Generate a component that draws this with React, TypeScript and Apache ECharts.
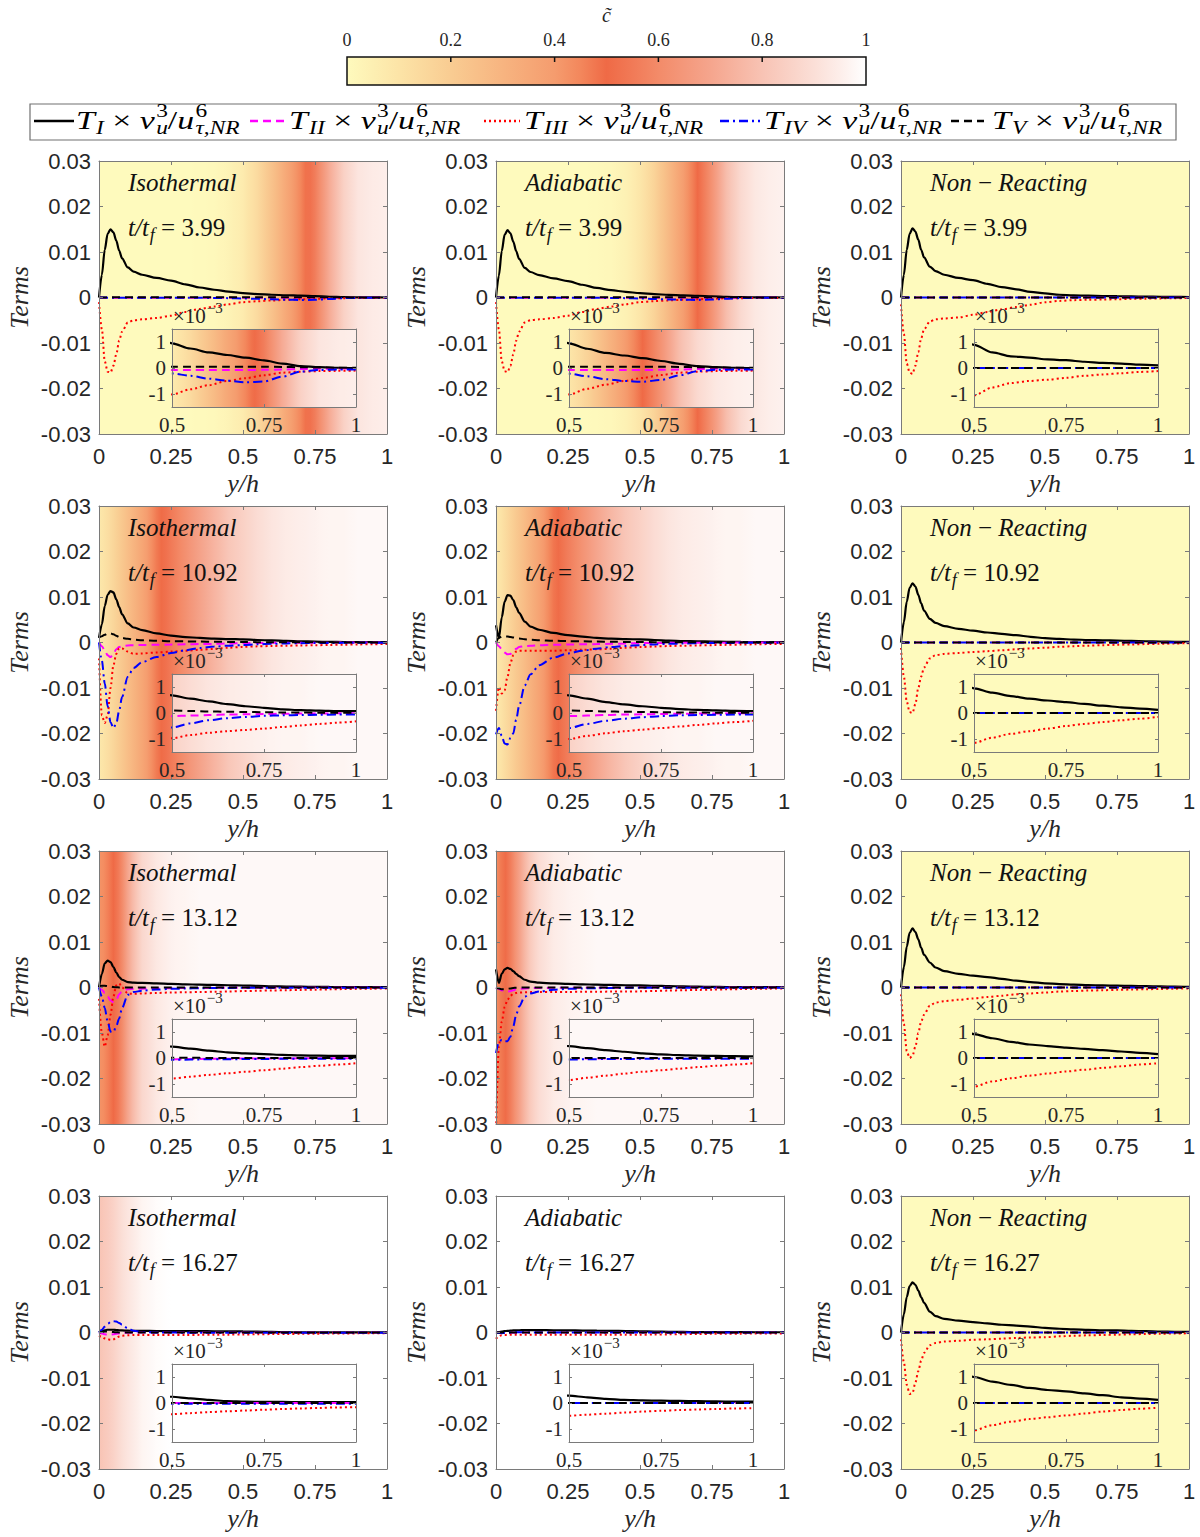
import React, { useEffect, useRef } from 'react';
import * as echarts from 'echarts';

// Wall-normal positions y/h at which every budget term is sampled
const Y_POS = [0, 0.01, 0.02, 0.03, 0.04, 0.05, 0.06, 0.07, 0.08, 0.1, 0.12, 0.15, 0.2, 0.25, 0.3, 0.35, 0.4, 0.45, 0.5, 0.55, 0.6, 0.65, 0.7, 0.75, 0.8, 0.85, 0.9, 0.95, 1];

// Budget terms in units of 1e-3 (T_I .. T_V), one set per case and time
const ZERO = [0, 0, 0, 0, 0, 0, 0, 0, 0, 0, 0, 0, 0, 0, 0, 0, 0, 0, 0, 0, 0, 0, 0, 0, 0, 0, 0, 0, 0];

const iso399_T1 = [0, 5, 10.5, 14, 15, 14.3, 12.5, 10.3, 8.6, 6.6, 5.7, 5.0, 4.3, 3.7, 2.9, 2.2, 1.7, 1.3, 0.95, 0.75, 0.6, 0.5, 0.4, 0.29, 0.17, 0.07, 0.03, 0.01, 0];
const iso399_T2 = [0, -0.02, -0.04, -0.05, -0.05, -0.05, -0.05, -0.05, -0.05, -0.05, -0.05, -0.05, -0.06, -0.06, -0.07, -0.07, -0.08, -0.08, -0.08, -0.08, -0.08, -0.08, -0.08, -0.07, -0.06, -0.04, -0.03, -0.02, -0.02];
const iso399_T3 = [-1, -7, -14, -16.3, -16.5, -15, -12.5, -9.5, -7.5, -5.5, -5.0, -4.8, -4.5, -4.0, -3.2, -2.5, -2.0, -1.5, -1.02, -0.82, -0.66, -0.5, -0.39, -0.28, -0.18, -0.14, -0.12, -0.11, -0.1];
const iso399_T4 = [0, 0, -0.02, -0.03, -0.03, -0.03, -0.03, -0.03, -0.03, -0.03, -0.03, -0.03, -0.04, -0.05, -0.06, -0.07, -0.09, -0.14, -0.21, -0.3, -0.41, -0.49, -0.55, -0.52, -0.33, -0.14, -0.08, -0.06, -0.06];
const iso399_T5 = [0, 0.01, 0.02, 0.03, 0.03, 0.03, 0.03, 0.03, 0.03, 0.03, 0.03, 0.03, 0.04, 0.04, 0.04, 0.05, 0.05, 0.05, 0.05, 0.05, 0.05, 0.05, 0.05, 0.05, 0.04, 0.03, 0.02, 0.01, 0.01];

const adi399_T1 = [0, 4.8, 10.2, 13.8, 14.8, 14.1, 12.3, 10.2, 8.5, 6.5, 5.6, 4.9, 4.2, 3.6, 2.8, 2.1, 1.6, 1.25, 0.95, 0.74, 0.58, 0.48, 0.38, 0.27, 0.16, 0.07, 0.03, 0.01, 0];
const adi399_T2 = [0, -0.02, -0.04, -0.05, -0.05, -0.05, -0.05, -0.05, -0.05, -0.05, -0.05, -0.05, -0.06, -0.06, -0.07, -0.07, -0.08, -0.08, -0.08, -0.08, -0.08, -0.08, -0.08, -0.07, -0.06, -0.04, -0.03, -0.02, -0.02];
const adi399_T3 = [-1, -7, -14, -16.2, -16.4, -15, -12.5, -9.5, -7.5, -5.5, -5.0, -4.8, -4.5, -4.0, -3.2, -2.5, -2.0, -1.5, -1.02, -0.8, -0.64, -0.5, -0.38, -0.27, -0.18, -0.14, -0.12, -0.11, -0.1];
const adi399_T4 = [0, 0, -0.02, -0.03, -0.03, -0.03, -0.03, -0.03, -0.03, -0.03, -0.03, -0.03, -0.04, -0.05, -0.06, -0.07, -0.09, -0.14, -0.22, -0.32, -0.43, -0.5, -0.53, -0.46, -0.28, -0.12, -0.07, -0.06, -0.06];
const adi399_T5 = [0, 0.01, 0.02, 0.03, 0.03, 0.03, 0.03, 0.03, 0.03, 0.03, 0.03, 0.03, 0.04, 0.04, 0.04, 0.05, 0.05, 0.05, 0.05, 0.05, 0.05, 0.05, 0.05, 0.05, 0.04, 0.03, 0.02, 0.01, 0.01];

const nr399_T1 = [0, 5, 10.5, 14, 15.2, 14.5, 12.7, 10.5, 8.8, 6.8, 5.8, 5.0, 4.3, 3.8, 3.0, 2.3, 1.8, 1.25, 0.89, 0.6, 0.45, 0.4, 0.33, 0.3, 0.24, 0.2, 0.17, 0.13, 0.1];
const nr399_T3 = [-1.5, -8, -14.5, -16.5, -16.8, -15, -12, -9, -7, -5.3, -4.8, -4.6, -4.4, -3.8, -3.2, -2.6, -2.1, -1.6, -1.05, -0.75, -0.58, -0.5, -0.45, -0.38, -0.3, -0.25, -0.2, -0.15, -0.12];

const iso1092_T1 = [1.0, 4, 8, 10.5, 11.3, 11, 9.5, 7.8, 6.2, 4.2, 3.3, 2.7, 2.0, 1.5, 1.2, 1.0, 0.85, 0.76, 0.68, 0.55, 0.45, 0.34, 0.26, 0.2, 0.14, 0.11, 0.09, 0.07, 0.07];
const iso1092_T2 = [0, -0.8, -1.8, -2.8, -3.2, -2.5, -1.5, -1.0, -0.8, -0.65, -0.6, -0.55, -0.5, -0.45, -0.4, -0.35, -0.3, -0.22, -0.12, -0.1, -0.08, -0.06, -0.05, -0.04, -0.03, -0.02, -0.02, -0.01, -0.01];
const iso1092_T3 = [-3.5, -16, -17.7, -16, -10, -5, -2.5, -1.3, -1.3, -2.0, -2.5, -2.4, -2.2, -2.0, -1.8, -1.6, -1.4, -1.15, -0.97, -0.85, -0.76, -0.7, -0.65, -0.6, -0.54, -0.48, -0.42, -0.37, -0.32];
const iso1092_T4 = [0, -4, -9, -14, -17.5, -18.8, -17.8, -15, -12, -7.5, -5.6, -4.3, -3.2, -2.3, -1.7, -1.2, -0.9, -0.7, -0.56, -0.4, -0.28, -0.2, -0.15, -0.11, -0.09, -0.08, -0.07, -0.06, -0.06];
const iso1092_T5 = [1.1, 1.4, 1.7, 2.0, 2.0, 1.8, 1.5, 1.2, 1.0, 0.8, 0.65, 0.5, 0.4, 0.3, 0.25, 0.2, 0.16, 0.13, 0.1, 0.08, 0.06, 0.05, 0.04, 0.03, 0.02, 0.02, 0.01, 0.01, 0.01];

const adi1092_T1 = [3.8, 1.0, 5.5, 9, 10.4, 10.3, 9.3, 7.8, 6.5, 4.6, 3.5, 2.8, 2.1, 1.6, 1.3, 1.0, 0.85, 0.75, 0.68, 0.55, 0.42, 0.33, 0.26, 0.2, 0.15, 0.12, 0.1, 0.08, 0.07];
const adi1092_T2 = [0, -0.8, -1.5, -2.2, -2.6, -2.5, -2.0, -1.4, -1.0, -0.8, -0.7, -0.6, -0.5, -0.45, -0.4, -0.35, -0.3, -0.22, -0.12, -0.1, -0.08, -0.06, -0.05, -0.04, -0.03, -0.02, -0.02, -0.01, -0.01];
const adi1092_T3 = [-15, -9.8, -11.2, -10.5, -7.5, -4.5, -2.8, -2.0, -1.8, -1.8, -1.8, -1.8, -1.8, -1.7, -1.6, -1.5, -1.35, -1.15, -1.0, -0.88, -0.78, -0.7, -0.64, -0.58, -0.52, -0.46, -0.4, -0.35, -0.3];
const adi1092_T4 = [-20.2, -18.8, -20.5, -22.2, -22.4, -21, -20, -17, -14, -9.4, -7, -5, -3.3, -2.4, -1.8, -1.35, -1.0, -0.75, -0.58, -0.42, -0.3, -0.22, -0.16, -0.12, -0.09, -0.08, -0.07, -0.06, -0.06];
const adi1092_T5 = [0, 1.0, 1.3, 1.3, 1.3, 1.2, 1.1, 1.0, 0.9, 0.7, 0.6, 0.5, 0.4, 0.3, 0.25, 0.2, 0.16, 0.13, 0.1, 0.08, 0.06, 0.05, 0.04, 0.03, 0.02, 0.02, 0.01, 0.01, 0.01];

const nr1092_T1 = [0, 4.5, 9, 12, 13, 12.3, 10.5, 8.6, 7, 5.2, 4.3, 3.6, 3.0, 2.6, 2.2, 1.9, 1.6, 1.25, 0.95, 0.78, 0.65, 0.55, 0.48, 0.42, 0.35, 0.28, 0.22, 0.17, 0.12];
const nr1092_T3 = [-1.2, -7.5, -13, -15.3, -15.5, -13.5, -10, -7.5, -5.5, -3.5, -2.8, -2.5, -2.3, -2.1, -1.9, -1.7, -1.5, -1.3, -1.15, -0.95, -0.8, -0.7, -0.6, -0.5, -0.42, -0.35, -0.28, -0.22, -0.15];

const iso1312_T1 = [0, 3, 5.3, 5.9, 5.6, 4.5, 3.3, 2.3, 1.7, 1.2, 1.05, 1.0, 0.9, 0.8, 0.7, 0.62, 0.56, 0.5, 0.44, 0.36, 0.28, 0.22, 0.18, 0.15, 0.12, 0.1, 0.09, 0.08, 0.08];
const iso1312_T2 = [0, -0.5, -1.2, -2.0, -2.8, -3.2, -2.7, -1.5, -0.8, -0.4, -0.3, -0.25, -0.2, -0.15, -0.12, -0.1, -0.08, -0.06, -0.05, -0.04, -0.03, -0.03, -0.02, -0.02, -0.02, -0.01, -0.01, -0.01, -0.01];
const iso1312_T3 = [-2.5, -10, -13, -10.5, -6, -2, 0.5, 0.9, 0, -1.3, -1.4, -1.3, -1.2, -1.1, -1.05, -1.0, -0.95, -0.88, -0.79, -0.72, -0.65, -0.59, -0.53, -0.47, -0.41, -0.35, -0.3, -0.25, -0.2];
const iso1312_T4 = [0, -2, -4.5, -7.5, -9.7, -9.8, -8.5, -6.8, -4.5, -1.6, -1.0, -0.7, -0.45, -0.3, -0.22, -0.16, -0.12, -0.09, -0.07, -0.06, -0.05, -0.05, -0.04, -0.04, -0.03, -0.03, -0.03, -0.03, -0.03];
const iso1312_T5 = [0.3, 0.4, 0.4, 0.3, 0.2, 0.1, 0.05, 0.02, 0.01, 0.01, 0.01, 0.01, 0.01, 0.01, 0.01, 0.01, 0.01, 0.01, 0.01, 0.01, 0, 0, 0, 0, 0, 0, 0, 0, 0];

const adi1312_T1 = [4.0, 1.0, 3.0, 4.0, 4.3, 4.1, 3.6, 3.0, 2.5, 1.7, 1.3, 1.05, 0.9, 0.8, 0.7, 0.62, 0.56, 0.5, 0.46, 0.38, 0.3, 0.24, 0.18, 0.14, 0.11, 0.09, 0.08, 0.07, 0.06];
const adi1312_T2 = [0, -0.3, -0.6, -0.8, -0.9, -0.8, -0.6, -0.4, -0.3, -0.2, -0.15, -0.1, -0.08, -0.06, -0.05, -0.04, -0.03, -0.03, -0.02, -0.02, -0.02, -0.02, -0.01, -0.01, -0.01, -0.01, -0.01, -0.01, -0.01];
const adi1312_T3 = [-32, -13, -7.5, -4.3, -2.7, -1.8, -1.4, -1.2, -1.1, -1.05, -1.0, -1.0, -1.0, -0.97, -0.95, -0.92, -0.9, -0.88, -0.85, -0.76, -0.68, -0.6, -0.53, -0.47, -0.41, -0.35, -0.3, -0.25, -0.2];
const adi1312_T4 = [-14.4, -12, -11.5, -11.8, -11.8, -10.8, -8.5, -6, -4.2, -2.0, -1.3, -0.9, -0.5, -0.3, -0.2, -0.15, -0.1, -0.08, -0.06, -0.05, -0.04, -0.04, -0.03, -0.03, -0.03, -0.03, -0.03, -0.03, -0.03];
const adi1312_T5 = [0, -0.2, -0.4, -0.4, -0.3, -0.2, -0.1, -0.05, -0.02, 0, 0, 0, 0, 0, 0, 0, 0, 0, 0, 0, 0, 0, 0, 0, 0, 0, 0, 0, 0];

const nr1312_T1 = [0, 4.5, 9, 12, 13, 12.2, 10.6, 8.7, 7.2, 5.5, 4.4, 3.6, 3.0, 2.6, 2.3, 1.9, 1.5, 1.2, 0.92, 0.76, 0.62, 0.52, 0.46, 0.4, 0.35, 0.3, 0.25, 0.2, 0.15];
const nr1312_T3 = [-1.5, -8, -14, -15.5, -15, -13, -10, -7.5, -6, -4, -3.3, -3.0, -2.7, -2.4, -2.1, -1.8, -1.5, -1.3, -1.1, -0.9, -0.78, -0.68, -0.6, -0.52, -0.45, -0.38, -0.32, -0.25, -0.2];

const iso1627_T1 = [0, 0.3, 0.5, 0.6, 0.6, 0.6, 0.55, 0.5, 0.45, 0.4, 0.38, 0.35, 0.33, 0.31, 0.3, 0.29, 0.28, 0.26, 0.24, 0.18, 0.12, 0.07, 0.05, 0.04, 0.04, 0.03, 0.03, 0.03, 0.03];
const iso1627_T2 = [0, -0.2, -0.4, -0.5, -0.5, -0.4, -0.3, -0.2, -0.1, -0.05, -0.02, 0, 0, 0, 0, 0, 0, 0, 0, 0, 0, 0, 0, 0, 0, 0, 0, 0, 0];
const iso1627_T3 = [-0.7, -1.0, -1.3, -1.5, -1.6, -1.5, -1.2, -0.9, -0.7, -0.6, -0.55, -0.55, -0.55, -0.55, -0.55, -0.52, -0.5, -0.47, -0.43, -0.39, -0.35, -0.32, -0.29, -0.26, -0.23, -0.21, -0.19, -0.17, -0.16];
const iso1627_T4 = [0, 0.6, 1.3, 1.9, 2.3, 2.5, 2.4, 2.1, 1.7, 0.9, 0.4, 0.1, 0, -0.02, -0.03, -0.03, -0.03, -0.03, -0.03, -0.03, -0.03, -0.03, -0.03, -0.03, -0.03, -0.03, -0.03, -0.03, -0.03];
const iso1627_T5 = [0, 0.1, 0.2, 0.2, 0.15, 0.1, 0.05, 0.02, 0, 0, 0, 0, 0, 0, 0, 0, 0, 0, 0, 0, 0, 0, 0, 0, 0, 0, 0, 0, 0];

const adi1627_T1 = [0, 0.1, 0.2, 0.3, 0.35, 0.4, 0.45, 0.48, 0.5, 0.52, 0.53, 0.53, 0.5, 0.47, 0.43, 0.4, 0.36, 0.32, 0.28, 0.22, 0.16, 0.12, 0.1, 0.09, 0.08, 0.07, 0.06, 0.05, 0.05];
const adi1627_T2 = [0, -0.05, -0.1, -0.1, -0.1, -0.08, -0.06, -0.04, -0.03, -0.02, -0.01, 0, 0, 0, 0, 0, 0, 0, 0, 0, 0, 0, 0, 0, 0, 0, 0, 0, 0];
const adi1627_T3 = [-1.4, -0.8, -0.6, -0.55, -0.5, -0.5, -0.5, -0.5, -0.5, -0.5, -0.5, -0.5, -0.5, -0.5, -0.5, -0.5, -0.5, -0.5, -0.49, -0.45, -0.41, -0.37, -0.33, -0.3, -0.27, -0.25, -0.23, -0.21, -0.2];
const adi1627_T4 = [0, -0.1, -0.15, -0.1, -0.05, 0, 0.05, 0.05, 0.05, 0.03, 0.02, 0.01, 0, 0, 0, 0, 0, 0, 0, 0, 0, 0, 0, 0, 0, 0, 0, 0, 0];

const nr1627_T1 = [0, 4, 7.8, 10.2, 11, 10.5, 9.2, 7.8, 6.5, 4.6, 3.6, 3.0, 2.6, 2.3, 2.0, 1.7, 1.5, 1.3, 1.0, 0.82, 0.7, 0.58, 0.5, 0.45, 0.37, 0.3, 0.22, 0.17, 0.12];
const nr1627_T3 = [-1.5, -6.5, -11.5, -13.5, -13.3, -11, -8.5, -6.2, -4.5, -2.8, -2.3, -2.0, -1.8, -1.6, -1.5, -1.35, -1.2, -1.1, -1.05, -0.85, -0.72, -0.62, -0.55, -0.48, -0.4, -0.33, -0.27, -0.22, -0.18];

// Mean progress variable c~ across the channel, one profile per case and time
const C_POS = [0, 0.02, 0.04, 0.06, 0.08, 0.1, 0.12, 0.15, 0.2, 0.25, 0.3, 0.35, 0.4, 0.45, 0.5, 0.55, 0.6, 0.65, 0.7, 0.75, 0.8, 0.85, 0.9, 0.95, 1];
const cIso399 = [0, 0, 0, 0, 0, 0, 0, 0, 0, 0, 0, 0.005, 0.01, 0.03, 0.07, 0.14, 0.24, 0.35, 0.45, 0.56, 0.72, 0.85, 0.92, 0.94, 0.95];
const cAdi399 = [0, 0, 0, 0, 0, 0, 0, 0, 0, 0, 0, 0.005, 0.015, 0.04, 0.09, 0.17, 0.28, 0.39, 0.5, 0.63, 0.78, 0.88, 0.93, 0.95, 0.96];
const cIso1092 = [0.08, 0.11, 0.14, 0.18, 0.22, 0.26, 0.3, 0.36, 0.47, 0.55, 0.62, 0.69, 0.75, 0.81, 0.85, 0.89, 0.92, 0.94, 0.95, 0.96, 0.97, 0.97, 0.98, 0.98, 0.98];
const cAdi1092 = [0.08, 0.11, 0.15, 0.19, 0.23, 0.27, 0.31, 0.37, 0.48, 0.56, 0.63, 0.7, 0.76, 0.81, 0.85, 0.89, 0.92, 0.94, 0.95, 0.96, 0.97, 0.97, 0.98, 0.98, 0.98];
const cIso1312 = [0.42, 0.44, 0.48, 0.52, 0.6, 0.7, 0.78, 0.87, 0.93, 0.96, 0.97, 0.98, 0.98, 0.98, 0.98, 0.98, 0.98, 0.98, 0.98, 0.98, 0.98, 0.98, 0.98, 0.98, 0.98];
const cAdi1312 = [0.43, 0.48, 0.52, 0.6, 0.68, 0.76, 0.83, 0.89, 0.94, 0.96, 0.97, 0.98, 0.98, 0.98, 0.98, 0.98, 0.98, 0.98, 0.98, 0.98, 0.98, 0.98, 0.98, 0.98, 0.98];
const cIso1627 = [0.8, 0.82, 0.84, 0.87, 0.9, 0.92, 0.94, 0.97, 0.99, 1, 1, 1, 1, 1, 1, 1, 1, 1, 1, 1, 1, 1, 1, 1, 1];
const cAdi1627 = [1, 1, 1, 1, 1, 1, 1, 1, 1, 1, 1, 1, 1, 1, 1, 1, 1, 1, 1, 1, 1, 1, 1, 1, 1];
const cNonReacting = [0, 0, 0, 0, 0, 0, 0, 0, 0, 0, 0, 0, 0, 0, 0, 0, 0, 0, 0, 0, 0, 0, 0, 0, 0];

// Colour map for c~ (pale yellow -> orange-red -> white)
const CMAP_LEVELS = [0, 0.1, 0.2, 0.3, 0.4, 0.45, 0.5, 0.55, 0.6, 0.7, 0.8, 0.9, 0.95, 1];
const CMAP_COLORS = ['#FEFABD', '#FCE4A7', '#F9CC92', '#F7B480', '#F59C6E', '#F3875C', '#EF6A46', '#F17A57', '#F38B69', '#F5A58D', '#F8C3B4', '#FBDFD7', '#FDEEEA', '#FFFFFF'];
const CBAR_TICKS = [0, 0.2, 0.4, 0.6, 0.8, 1];
const CBAR_LABELS = ['0', '0.2', '0.4', '0.6', '0.8', '1'];

const CASE_ISO = 'iso';
const CASE_ADI = 'adi';
const CASE_NR = 'nr';

const PANELS = [
  { kind: CASE_ISO, time: '3.99', terms: [iso399_T1, iso399_T2, iso399_T3, iso399_T4, iso399_T5], c: cIso399 },
  { kind: CASE_ADI, time: '3.99', terms: [adi399_T1, adi399_T2, adi399_T3, adi399_T4, adi399_T5], c: cAdi399 },
  { kind: CASE_NR, time: '3.99', terms: [nr399_T1, ZERO, nr399_T3, ZERO, ZERO], c: cNonReacting },
  { kind: CASE_ISO, time: '10.92', terms: [iso1092_T1, iso1092_T2, iso1092_T3, iso1092_T4, iso1092_T5], c: cIso1092 },
  { kind: CASE_ADI, time: '10.92', terms: [adi1092_T1, adi1092_T2, adi1092_T3, adi1092_T4, adi1092_T5], c: cAdi1092 },
  { kind: CASE_NR, time: '10.92', terms: [nr1092_T1, ZERO, nr1092_T3, ZERO, ZERO], c: cNonReacting },
  { kind: CASE_ISO, time: '13.12', terms: [iso1312_T1, iso1312_T2, iso1312_T3, iso1312_T4, iso1312_T5], c: cIso1312 },
  { kind: CASE_ADI, time: '13.12', terms: [adi1312_T1, adi1312_T2, adi1312_T3, adi1312_T4, adi1312_T5], c: cAdi1312 },
  { kind: CASE_NR, time: '13.12', terms: [nr1312_T1, ZERO, nr1312_T3, ZERO, ZERO], c: cNonReacting },
  { kind: CASE_ISO, time: '16.27', terms: [iso1627_T1, iso1627_T2, iso1627_T3, iso1627_T4, iso1627_T5], c: cIso1627 },
  { kind: CASE_ADI, time: '16.27', terms: [adi1627_T1, adi1627_T2, adi1627_T3, adi1627_T4, ZERO], c: cAdi1627 },
  { kind: CASE_NR, time: '16.27', terms: [nr1627_T1, ZERO, nr1627_T3, ZERO, ZERO], c: cNonReacting },
];

const TERM_SUBS = ['I', 'II', 'III', 'IV', 'V'];

// ---- styling ----
const SERIF = 'Liberation Serif, serif';
const SANS = 'Liberation Sans, Arial, sans-serif';
const INK = '#262626';
const BOX = '#7a7a7a';

const TERM_STYLES: { color: string; dash: any }[] = [
  { color: '#000000', dash: 'solid' },
  { color: '#FF00FF', dash: [8, 5] },
  { color: '#FF0000', dash: [2, 3] },
  { color: '#0000FF', dash: [9, 4, 2, 4] },
  { color: '#000000', dash: [8, 5] },
];

const COL_LEFT = [99, 496, 901];
const ROW_TOP = [161, 506, 851, 1196];
const PLOT_W = 288;
const PLOT_H = 273;
const INSET_DX = 73;
const INSET_DY = 168;
const INSET_W = 184;
const INSET_H = 78;

// ---- helpers ----
function hexToRgb(h: string) {
  const n = parseInt(h.slice(1), 16);
  return [(n >> 16) & 255, (n >> 8) & 255, n & 255];
}
function cmap(c: number) {
  const v = Math.max(0, Math.min(1, c));
  let k = 0;
  while (k < CMAP_LEVELS.length - 2 && v > CMAP_LEVELS[k + 1]) k++;
  const t = (v - CMAP_LEVELS[k]) / (CMAP_LEVELS[k + 1] - CMAP_LEVELS[k]);
  const a = hexToRgb(CMAP_COLORS[k]);
  const b = hexToRgb(CMAP_COLORS[k + 1]);
  return `rgb(${a.map((x, i) => Math.round(x + (b[i] - x) * t)).join(',')})`;
}
function cAt(profile: number[], x: number) {
  if (x <= C_POS[0]) return profile[0];
  for (let k = 0; k < C_POS.length - 1; k++) {
    if (x <= C_POS[k + 1]) {
      const t = (x - C_POS[k]) / (C_POS[k + 1] - C_POS[k]);
      return profile[k] + (profile[k + 1] - profile[k]) * t;
    }
  }
  return profile[profile.length - 1];
}
function bgGradient(profile: number[], x0: number, x1: number) {
  const stops: { offset: number; color: string }[] = [];
  const n = 60;
  for (let k = 0; k <= n; k++) {
    const x = x0 + ((x1 - x0) * k) / n;
    stops.push({ offset: k / n, color: cmap(cAt(profile, x)) });
  }
  return new echarts.graphic.LinearGradient(0, 0, 1, 0, stops);
}

let measureCtx: CanvasRenderingContext2D | null = null;
function measure(text: string, size: number, italic: boolean) {
  if (!measureCtx) measureCtx = document.createElement('canvas').getContext('2d');
  if (!measureCtx) return text.length * size * 0.5;
  measureCtx.font = `${italic ? 'italic ' : ''}${size}px ${SERIF}`;
  return measureCtx.measureText(text).width;
}

type Tok = { t?: string; i?: boolean; sup?: string; sub?: string };

function txt(text: string, x: number, y: number, size: number, italic: boolean, fill: string) {
  return {
    type: 'text',
    x,
    y,
    z: 50,
    silent: true,
    style: {
      text,
      fontSize: size,
      fontFamily: SERIF,
      fontStyle: italic ? 'italic' : 'normal',
      fill,
      align: 'left',
      verticalAlign: 'middle',
      textAlign: 'left',
      textVerticalAlign: 'middle',
    },
  };
}

function mathRun(toks: Tok[], size: number, fill: string) {
  const small = Math.round(size * 0.7);
  let x = 0;
  const children: any[] = [];
  for (const k of toks) {
    if (k.t) {
      children.push(txt(k.t, x, 0, size, !!k.i, fill));
      x += measure(k.t, size, !!k.i);
    }
    let w = 0;
    if (k.sup) {
      children.push(txt(k.sup, x + 1, -size * 0.36, small, false, fill));
      w = Math.max(w, measure(k.sup, small, false) + 1);
    }
    if (k.sub) {
      children.push(txt(k.sub, x + 1, size * 0.32, small, true, fill));
      w = Math.max(w, measure(k.sub, small, true) + 1);
    }
    x += w;
  }
  return { children, width: x };
}

function mathGroup(toks: Tok[], x: number, y: number, size: number, fill: string, targetWidth?: number) {
  const run = mathRun(toks, size, fill);
  let scaleX = 1;
  if (targetWidth) scaleX = Math.max(0.85, Math.min(1.3, targetWidth / run.width));
  return { type: 'group', x, y, scaleX, z: 50, silent: true, children: run.children };
}

function caseTokens(kind: string): Tok[] {
  if (kind === CASE_ISO) return [{ t: 'Isothermal', i: true }];
  if (kind === CASE_ADI) return [{ t: 'Adiabatic', i: true }];
  return [{ t: 'Non', i: true }, { t: ' \u2212 ' }, { t: 'Reacting', i: true }];
}

function buildOption() {
  const grids: any[] = [];
  const xAxes: any[] = [];
  const yAxes: any[] = [];
  const series: any[] = [];
  const graphics: any[] = [];

  const addAxes = (gi: number, main: boolean) => {
    const axisLine = { show: true, onZero: false, lineStyle: { color: BOX, width: 1 } };
    const tick = { show: true, inside: true, length: main ? 4 : 3, lineStyle: { color: BOX, width: 1 } };
    const xBase = { type: 'value', gridIndex: gi, min: main ? 0 : 0.5, max: 1, interval: 0.25, z: 8, axisLine, splitLine: { show: false } };
    xAxes.push({
      ...xBase,
      position: 'bottom',
      axisTick: tick,
      axisLabel: {
        show: true,
        margin: main ? 11 : 7,
        fontSize: main ? 22 : 21,
        fontFamily: main ? SANS : SERIF,
        color: INK,
        showMinLabel: true,
        showMaxLabel: true,
      },
    });
    xAxes.push({ ...xBase, position: 'top', axisTick: tick, axisLabel: { show: false } });

    if (main) {
      const yBase = { type: 'value', gridIndex: gi, min: -0.03, max: 0.03, interval: 0.01, z: 8, axisLine, splitLine: { show: false } };
      yAxes.push({
        ...yBase,
        position: 'left',
        axisTick: tick,
        axisLabel: { show: true, margin: 8, fontSize: 22, fontFamily: SANS, color: INK, showMinLabel: true, showMaxLabel: true },
      });
      yAxes.push({ ...yBase, position: 'right', axisTick: tick, axisLabel: { show: false } });
    } else {
      const yBase = { type: 'value', gridIndex: gi, min: -1.5, max: 1.5, z: 8, axisLine, splitLine: { show: false } };
      yAxes.push({
        ...yBase,
        position: 'left',
        axisTick: { ...tick, customValues: [-1, 0, 1] },
        axisLabel: { show: true, margin: 6, fontSize: 21, fontFamily: SERIF, color: INK, customValues: [-1, 0, 1] },
      });
      yAxes.push({ ...yBase, position: 'right', axisTick: { ...tick, customValues: [-1, 0, 1] }, axisLabel: { show: false } });
    }
  };

  const addBackground = (gi: number, profile: number[], main: boolean) => {
    const x0 = main ? 0 : 0.5;
    const yMin = main ? -0.03 : -1.5;
    const yMax = main ? 0.03 : 1.5;
    const fill = bgGradient(profile, x0, 1);
    series.push({
      type: 'custom',
      xAxisIndex: gi * 2,
      yAxisIndex: gi * 2,
      z: main ? 1 : 5,
      silent: true,
      clip: false,
      data: [[x0, yMin]],
      renderItem: (_p: any, api: any) => {
        const a = api.coord([x0, yMax]);
        const b = api.coord([1, yMin]);
        return {
          type: 'rect',
          shape: { x: a[0], y: a[1], width: b[0] - a[0], height: b[1] - a[1] },
          style: { fill, stroke: null },
        };
      },
    });
  };

  const addTerms = (gi: number, terms: number[][], main: boolean) => {
    const scale = main ? 1e-3 : 1;
    terms.forEach((arr, k) => {
      const st = TERM_STYLES[k];
      series.push({
        type: 'line',
        name: `T_${TERM_SUBS[k]}`,
        xAxisIndex: gi * 2,
        yAxisIndex: gi * 2,
        z: main ? 3 : 6,
        silent: true,
        symbol: 'none',
        showSymbol: false,
        smooth: 0.3,
        smoothMonotone: 'x',
        clip: true,
        lineStyle: { color: st.color, width: k === 0 ? 2.2 : 2, type: st.dash },
        data: Y_POS.map((y, i) => [y, arr[i] * scale]),
      });
    });
  };

  PANELS.forEach((p, idx) => {
    const r = Math.floor(idx / 3);
    const c = idx % 3;
    const left = COL_LEFT[c];
    const top = ROW_TOP[r];

    // main axes
    const gMain = grids.length;
    grids.push({ left, top, width: PLOT_W, height: PLOT_H, containLabel: false });
    addAxes(gMain, true);
    addBackground(gMain, p.c, true);
    addTerms(gMain, p.terms, true);

    // inset axes (outer half of the channel, x10^-3)
    const gIn = grids.length;
    grids.push({ left: left + INSET_DX, top: top + INSET_DY, width: INSET_W, height: INSET_H, containLabel: false });
    addAxes(gIn, false);
    addBackground(gIn, p.c, false);
    addTerms(gIn, p.terms, false);

    // annotations
    graphics.push(mathGroup(caseTokens(p.kind), left + 29, top + 21, 25, '#111'));
    graphics.push(mathGroup([{ t: 't/t', i: true, sub: 'f' }, { t: ' = ' + p.time }], left + 29, top + 66, 25, '#111'));
    graphics.push(mathGroup([{ t: '\u00d710', sup: '\u22123' }], left + INSET_DX + 1, top + INSET_DY - 13, 21, INK));
    graphics.push({
      type: 'text',
      x: left - 80,
      y: top + PLOT_H / 2,
      rotation: Math.PI / 2,
      z: 50,
      silent: true,
      style: { text: 'Terms', fontSize: 26, fontStyle: 'italic', fontFamily: SERIF, fill: INK, align: 'center', verticalAlign: 'middle', textAlign: 'center', textVerticalAlign: 'middle' },
    });
    graphics.push({
      type: 'text',
      x: left + PLOT_W / 2,
      y: top + PLOT_H + 49,
      z: 50,
      silent: true,
      style: { text: 'y/h', fontSize: 26, fontStyle: 'italic', fontFamily: SERIF, fill: INK, align: 'center', verticalAlign: 'middle', textAlign: 'center', textVerticalAlign: 'middle' },
    });
  });

  // colour bar for c~
  const cbX = 347;
  const cbY = 57;
  const cbW = 519;
  const cbH = 28;
  graphics.push({
    type: 'rect',
    z: 40,
    silent: true,
    shape: { x: cbX, y: cbY, width: cbW, height: cbH },
    style: {
      fill: new echarts.graphic.LinearGradient(0, 0, 1, 0, CMAP_LEVELS.map((v, i) => ({ offset: v, color: CMAP_COLORS[i] }))),
      stroke: '#111',
      lineWidth: 1.5,
    },
  });
  CBAR_TICKS.forEach((v, i) => {
    const x = cbX + v * cbW;
    if (v > 0 && v < 1) {
      graphics.push({ type: 'line', z: 41, silent: true, shape: { x1: x, y1: cbY, x2: x, y2: cbY + 5 }, style: { stroke: '#111', lineWidth: 1.5 } });
    }
    graphics.push({
      type: 'text',
      x,
      y: 40,
      z: 41,
      silent: true,
      style: { text: CBAR_LABELS[i], fontSize: 18, fontFamily: SERIF, fill: INK, align: 'center', verticalAlign: 'middle', textAlign: 'center', textVerticalAlign: 'middle' },
    });
  });
  graphics.push({
    type: 'text',
    x: cbX + cbW / 2,
    y: 15,
    z: 41,
    silent: true,
    style: { text: 'c\u0303', fontSize: 20, fontStyle: 'italic', fontFamily: SERIF, fill: INK, align: 'center', verticalAlign: 'middle', textAlign: 'center', textVerticalAlign: 'middle' },
  });

  // legend box
  graphics.push({
    type: 'rect',
    z: 40,
    silent: true,
    shape: { x: 30, y: 104, width: 1146, height: 36 },
    style: { fill: '#ffffff', stroke: '#707070', lineWidth: 1.2 },
  });
  const legendLineX = [[34, 74], [250, 284], [484, 520], [720, 760], [951, 984]];
  const legendTextX = [76, 289, 524, 764, 992];
  const legendTextW = [166, 172, 182, 180, 178];
  TERM_SUBS.forEach((sub, k) => {
    const st = TERM_STYLES[k];
    graphics.push({
      type: 'line',
      z: 45,
      silent: true,
      shape: { x1: legendLineX[k][0], y1: 121, x2: legendLineX[k][1], y2: 121 },
      style: { stroke: st.color, lineWidth: 2.5, lineDash: st.dash === 'solid' ? null : st.dash },
    });
    graphics.push(
      mathGroup(
        [
          { t: 'T', i: true, sub },
          { t: ' \u00d7 ' },
          { t: '\u03bd', i: true, sup: '3', sub: 'u' },
          { t: '/' },
          { t: 'u', i: true, sup: '6', sub: '\u03c4,NR' },
        ],
        legendTextX[k],
        120,
        26,
        '#000',
        legendTextW[k],
      ),
    );
  });

  return {
    animation: false,
    backgroundColor: '#ffffff',
    grid: grids,
    xAxis: xAxes,
    yAxis: yAxes,
    series,
    graphic: { elements: graphics },
  };
}

export default function App() {
  const ref = useRef<HTMLDivElement>(null);
  useEffect(() => {
    if (!ref.current) return;
    const chart = echarts.init(ref.current, null, { renderer: 'svg' });
    chart.setOption(buildOption() as any);
    return () => {
      chart.dispose();
    };
  }, []);
  return <div ref={ref} style={{ position: 'absolute', left: 0, top: 0, width: 1200, height: 1537, background: '#fff' }} />;
}
